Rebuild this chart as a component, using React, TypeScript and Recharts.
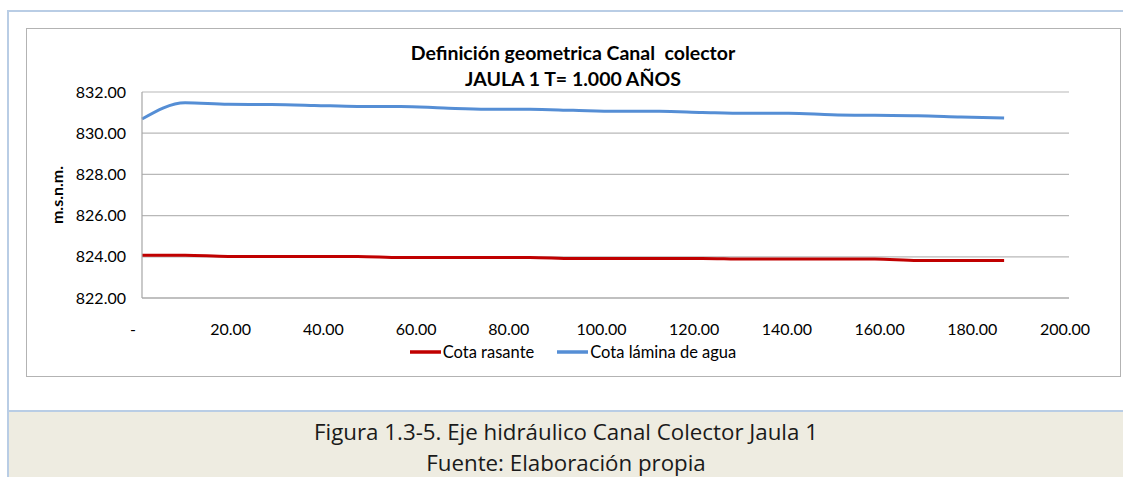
import { LineChart, Line, XAxis, YAxis, CartesianGrid, Legend } from "recharts";

const distances = [
  0, 9.3, 18.6, 27.9, 37.2, 46.5, 55.8, 65.1, 74.4, 83.7, 93.0, 102.3, 111.6,
  120.9, 130.2, 139.5, 148.8, 158.1, 167.4, 176.7, 186.0,
];
const cotaRasante = [
  824.07, 824.07, 824.02, 824.02, 824.02, 824.02, 823.97, 823.97, 823.97,
  823.97, 823.92, 823.92, 823.92, 823.92, 823.89, 823.89, 823.89, 823.89,
  823.82, 823.82, 823.82,
];
const cotaLamina = [
  830.69, 831.48, 831.4, 831.39, 831.35, 831.3, 831.3, 831.22, 831.16, 831.16,
  831.11, 831.06, 831.06, 831.01, 830.97, 830.97, 830.9, 830.87, 830.85,
  830.79, 830.74,
];
const xTicks = [0, 20, 40, 60, 80, 100, 120, 140, 160, 180, 200];
const yTicks = [822, 824, 826, 828, 830, 832];

const series = [
  { key: "rasante", name: "Cota rasante", color: "#C00000" },
  { key: "lamina", name: "Cota lámina de agua", color: "#558ED5" },
];

const data = distances.map((d, i) => ({
  dist: d,
  rasante: cotaRasante[i],
  lamina: cotaLamina[i],
}));

const FONT = "Lato, 'Open Sans', sans-serif";

const XTick = ({ x, y, payload }: any) => {
  const v = payload.value;
  return (
    <text
      x={x + (v === 0 ? -9 : -4)}
      y={y}
      textAnchor="middle"
      dominantBaseline="central"
      fill="#000"
      fontSize={16}
      fontFamily={FONT}
    >
      {v === 0 ? "-" : v.toFixed(2)}
    </text>
  );
};

const YLabel = ({ viewBox }: any) => {
  const cx = 30;
  const cy = viewBox.y + viewBox.height / 2;
  return (
    <text
      x={cx}
      y={cy}
      transform={`rotate(-90 ${cx} ${cy})`}
      textAnchor="middle"
      dominantBaseline="central"
      fontSize={16}
      fontWeight="bold"
      fontFamily={FONT}
      fill="#000"
    >
      m.s.n.m.
    </text>
  );
};

const renderLegend = () => (
  <div
    style={{
      display: "flex",
      justifyContent: "center",
      alignItems: "center",
      fontFamily: FONT,
      fontSize: 16.5,
      lineHeight: "22px",
      color: "#000",
    }}
  >
    {series.map((s, i) => (
      <div
        key={s.key}
        style={{ display: "flex", alignItems: "center", marginLeft: i ? 23 : 0 }}
      >
        <svg width={31} height={4} style={{ marginRight: 2 }}>
          <line x1={0} y1={2} x2={31} y2={2} stroke={s.color} strokeWidth={3.5} />
        </svg>
        <span>{s.name}</span>
      </div>
    ))}
  </div>
);

export default function App() {
  return (
    <div
      style={{
        position: "absolute",
        left: 0,
        top: 0,
        width: 1123,
        height: 477,
        background: "#fff",
        overflow: "hidden",
        fontFamily: FONT,
      }}
    >
      <div
        style={{
          position: "absolute",
          left: 7,
          top: 10,
          width: 1130,
          height: 480,
          borderTop: "2px solid #B9CDE5",
          borderLeft: "2px solid #B9CDE5",
        }}
      />
      <div
        style={{
          position: "absolute",
          left: 9,
          top: 410,
          width: 1120,
          height: 70,
          background: "#EEECE1",
          borderTop: "2px solid #B9CDE5",
          textAlign: "center",
          fontFamily: "'Open Sans', sans-serif",
          fontSize: 22.3,
          color: "#1a1a1a",
          lineHeight: "31px",
        }}
      >
        <div style={{ marginLeft: -6, paddingTop: 4 }}>
          Figura 1.3-5. Eje hidráulico Canal Colector Jaula 1
        </div>
        <div style={{ marginLeft: -6 }}>Fuente: Elaboración propia</div>
      </div>
      <div
        style={{
          position: "absolute",
          left: 26,
          top: 28,
          width: 1093,
          height: 347,
          border: "1px solid #B3B3B3",
        }}
      />
      <div
        style={{
          position: "absolute",
          left: 26,
          top: 40,
          width: 1094,
          textAlign: "center",
          fontWeight: "bold",
          fontSize: 19.5,
          lineHeight: "26px",
          color: "#000",
        }}
      >
        <div>Definición geometrica Canal&nbsp; colector</div>
        <div>JAULA 1 T= 1.000 AÑOS</div>
      </div>
      <div style={{ position: "absolute", left: 26, top: 28 }}>
        <LineChart
          width={1094}
          height={348}
          data={data}
          margin={{ top: 64, right: 51, bottom: 0, left: 0 }}
        >
          <CartesianGrid
            horizontal={true}
            vertical={false}
            stroke="#B8B8B8"
            strokeWidth={1.2}
          />
          <XAxis
            dataKey="dist"
            type="number"
            domain={[0, 200]}
            ticks={xTicks}
            height={78}
            axisLine={{ stroke: "#A6A6A6", strokeWidth: 1.2 }}
            tickLine={false}
            tickSize={0}
            tickMargin={30}
            tick={<XTick />}
            interval={0}
          />
          <YAxis
            type="number"
            domain={[822, 832]}
            ticks={yTicks}
            width={116}
            axisLine={{ stroke: "#A6A6A6", strokeWidth: 1.2 }}
            tickLine={false}
            tickSize={0}
            tickMargin={16}
            interval={0}
            tick={{ fill: "#000", fontSize: 16, fontFamily: FONT }}
            tickFormatter={(v: number) => v.toFixed(2)}
            label={<YLabel />}
          />
          <Legend
            layout="horizontal"
            verticalAlign="middle"
            align="center"
            wrapperStyle={{ top: 313, left: 0, width: 1094, height: 22 }}
            content={renderLegend}
          />
          {series.map((s) => (
            <Line
              key={s.key}
              type="monotone"
              dataKey={s.key}
              name={s.name}
              stroke={s.color}
              strokeWidth={3}
              dot={false}
              isAnimationActive={false}
            />
          ))}
        </LineChart>
      </div>
    </div>
  );
}
